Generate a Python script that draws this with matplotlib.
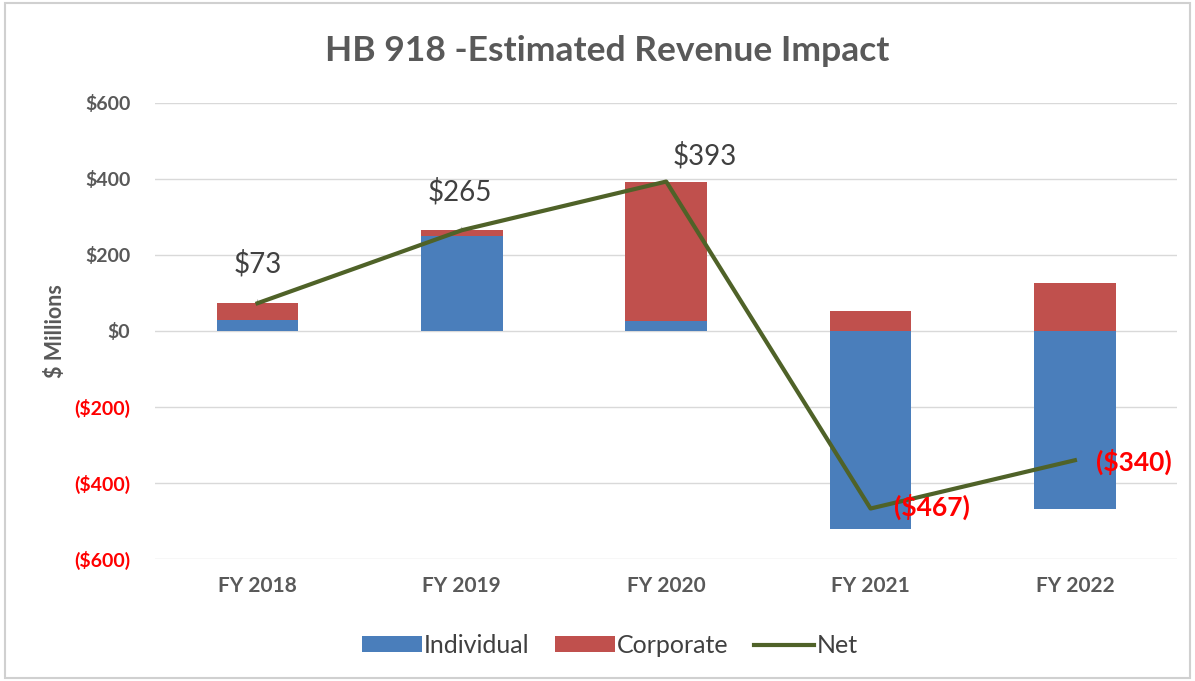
import matplotlib
matplotlib.use("Agg")
import matplotlib.pyplot as plt
from matplotlib.patches import Rectangle

plt.rcParams['font.family'] = ['Lato', 'DejaVu Sans']

categories = ["FY 2018", "FY 2019", "FY 2020", "FY 2021", "FY 2022"]
individual = [30, 249, 26, -520, -467]
corporate = [43, 16, 367, 53, 127]
net = [73, 265, 393, -467, -340]
net_labels = ["$73", "$265", "$393", "($467)", "($340)"]
yticks = [-600, -400, -200, 0, 200, 400, 600]
ytick_labels = ["($600)", "($400)", "($200)", "$0", "$200", "$400", "$600"]

BLUE = "#4A7EBB"
RED = "#C0504D"
GREEN = "#4F6228"
GREY = "#595959"

fig = plt.figure(figsize=(11.95, 6.81), dpi=100)
ax = fig.add_axes([0.13, 0.179, 0.855, 0.67])

x = list(range(len(categories)))
corp_base = [max(v, 0) for v in individual]
h_ind = ax.bar(x, individual, width=0.4, color=BLUE, label="Individual", zorder=2)
h_corp = ax.bar(x, corporate, width=0.4, bottom=corp_base, color=RED, label="Corporate", zorder=2)
h_net, = ax.plot(x, net, color=GREEN, lw=3, label="Net", zorder=3)

ax.set_xlim(-0.5, 4.5)
ax.set_ylim(-600, 600)
ax.set_yticks(yticks)
ax.set_yticklabels(ytick_labels)
for lbl, v in zip(ax.get_yticklabels(), yticks):
    lbl.set_color("red" if v < 0 else GREY)
    lbl.set_fontweight("bold")
    lbl.set_fontsize(14)
ax.set_xticks(x)
ax.set_xticklabels(categories, fontsize=15, fontweight="bold", color=GREY)
ax.tick_params(axis="both", length=0)
ax.tick_params(axis="y", pad=18)
ax.tick_params(axis="x", pad=12)
for s in ax.spines.values():
    s.set_visible(False)
ax.yaxis.grid(True, color="#D9D9D9", lw=1)
ax.set_axisbelow(True)

ax.set_ylabel("$ Millions", fontsize=15.5, fontweight="bold", color=GREY, labelpad=6)

# data labels
ax.annotate(net_labels[0], xy=(0, net[0]), xytext=(0, 176), ha="center", va="center",
            fontsize=20, color="#404040",
            arrowprops=dict(arrowstyle="-", color="#A6A6A6", lw=0.8, shrinkA=14, shrinkB=2))
ax.annotate(net_labels[1], xy=(1, net[1]), xytext=(0.99, 367), ha="center", va="center",
            fontsize=20, color="#404040",
            arrowprops=dict(arrowstyle="-", color="#A6A6A6", lw=0.8, shrinkA=14, shrinkB=2))
ax.text(2.19, 462, net_labels[2], ha="center", va="center", fontsize=20, color="#404040")
ax.text(3.30, -463, net_labels[3], ha="center", va="center", fontsize=19, color="red", fontweight="bold")
ax.text(4.29, -344, net_labels[4], ha="center", va="center", fontsize=19, color="red", fontweight="bold")

fig.text(0.508, 0.925, "HB 918 -Estimated Revenue Impact", ha="center", va="center",
         fontsize=25.5, fontweight="bold", color=GREY)

leg = fig.legend(handles=[h_ind, h_corp, h_net], labels=["Individual", "Corporate", "Net"],
                 loc="center", bbox_to_anchor=(0.51, 0.052), ncol=3, frameon=False,
                 fontsize=18, handlelength=2.4, handleheight=0.6, columnspacing=1.0,
                 handletextpad=0.1)
for t in leg.get_texts():
    t.set_color("#404040")

fig.patches.append(Rectangle((0.004, 0.004), 0.992, 0.992, transform=fig.transFigure,
                             fill=False, edgecolor="#D0D0D0", lw=1.5))

fig.savefig("out.png", dpi=100)
